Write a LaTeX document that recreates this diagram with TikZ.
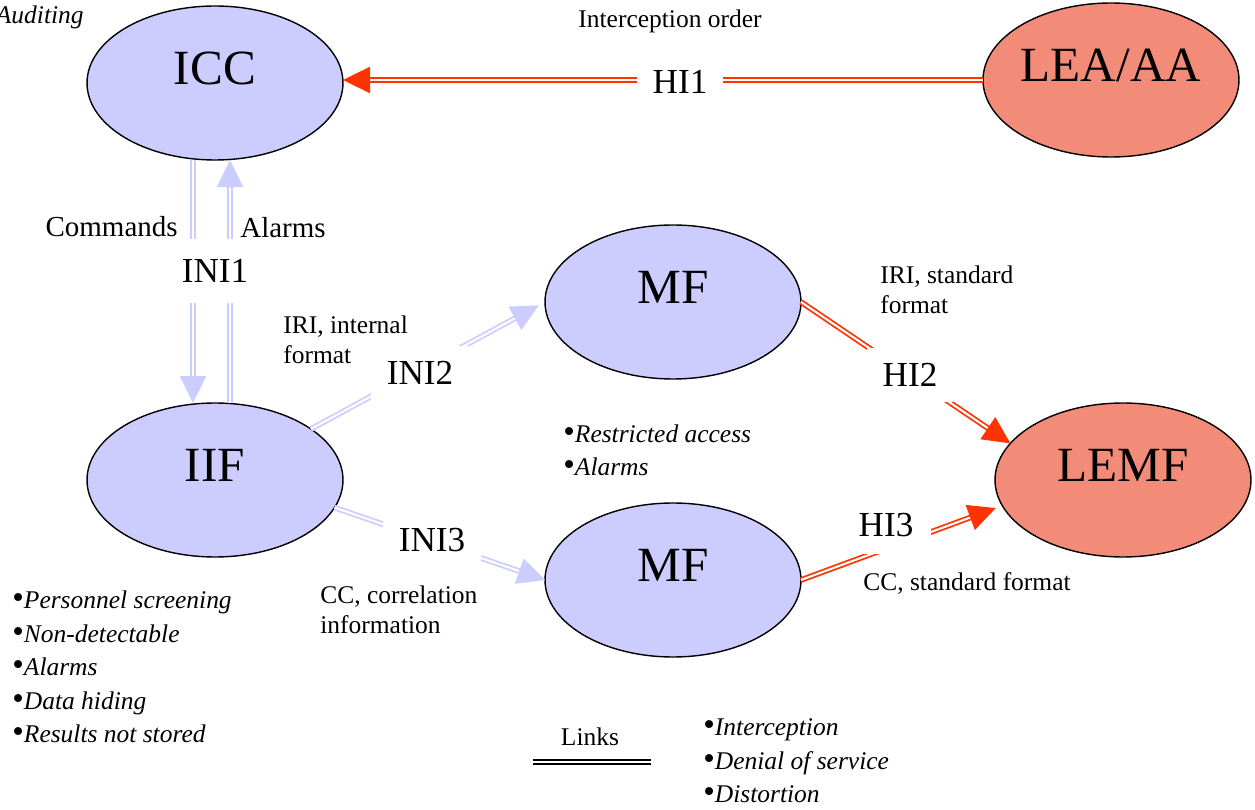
\documentclass[tikz,border=0pt]{standalone}
\usepackage{fontspec}
\setmainfont{Liberation Serif}
\usetikzlibrary{shapes.geometric,arrows.meta}

\definecolor{lavender}{RGB}{204,204,255}
\definecolor{salmon}{RGB}{242,140,120}
\definecolor{hired}{RGB}{255,51,0}

\newcommand{\itm}[1]{\scalebox{1.3}{\upshape\textbullet}\textit{#1}}

\tikzset{
	party/.style={ellipse, draw, line width=0.8pt, minimum width=5.12cm, minimum height=3.08cm,
		outer sep=0pt, inner sep=0pt, font=\fontsize{28}{30}\selectfont,
		text height=18.5pt, text depth=17pt},
	nf/.style={party, fill=lavender},
	lea/.style={party, fill=salmon},
	dbl/.style={double, line width=1pt, double distance=1.2pt},
	inilink/.style={dbl, draw=lavender, -{Triangle[length=15.5pt,width=15pt]}},
	hilink/.style={dbl, draw=hired, -{Triangle[length=15.5pt,width=15pt]}},
	iface/.style={fill=white, inner sep=9pt, font=\fontsize{20}{22}\selectfont},
	note/.style={inner sep=0pt, align=left, font=\fontsize{14.5}{16.8}\selectfont},
	threat/.style={inner sep=0pt, align=left, font=\fontsize{14.5}{19}\selectfont\itshape}
}

\begin{document}
\begin{tikzpicture}[x=0.02cm, y=-0.02cm]
	\useasboundingbox (0,0) rectangle (1255,810);

	% functions and agencies
	\node[nf] (ICC) at (215,83) {ICC};
	\node[lea] (LEA) at (1111,80) {LEA/AA};
	\node[nf] (IIF) at (215,480) {IIF};
	\node[nf] (MF1) at (673,302) {MF};
	\node[nf] (MF2) at (673,580) {MF};
	\node[lea] (LEMF) at (1123,480) {LEMF};

	% handover and internal interfaces
	\draw[hilink] (LEA.west) -- (LEA.west -| ICC.east);
	\draw[inilink] ([xshift=-0.44cm]ICC.south) -- ([xshift=-0.44cm]IIF.north);
	\draw[inilink] ([xshift=0.3cm]IIF.north) -- ([xshift=0.3cm]ICC.south);
	\draw[inilink, shorten >=4pt] (IIF.28) -- (MF1.west);
	\draw[inilink] (IIF.-13) -- (MF2.west);
	\draw[hilink] (MF1.east) -- (LEMF.162);
	\draw[hilink, shorten >=4pt] (MF2.east) -- (LEMF.192);

	\node[iface] (HI1) at (680,82) {HI1};
	\node[iface, inner xsep=3pt, inner ysep=11.5pt] (INI1) at (215,271) {INI1};
	\node[iface] (INI2) at (420,373) {INI2};
	\node[iface] (INI3) at (432,540) {INI3};
	\node[iface] (HI2) at (910,375) {HI2};
	\node[iface, inner sep=10pt] (HI3) at (886,525) {HI3};

	% flow labels
	\node[note, anchor=east, font=\fontsize{14.5}{16.8}\selectfont\itshape] (audit) at (84,17) {Auditing};
	\node[note] (order) at (670,21) {Interception order};
	\node[note, anchor=east, font=\fontsize{16.5}{18}\selectfont] (cmd) at (178,227) {Commands};
	\node[note, anchor=west, font=\fontsize{16.5}{18}\selectfont] (alarm) at (240,228) {Alarms};
	\node[note, anchor=west] (iriint) at (283,340) {IRI, internal\\format};
	\node[note, anchor=west] (iristd) at (880,290) {IRI, standard\\format};
	\node[note, anchor=west] (cccorr) at (320,610) {CC, correlation\\information};
	\node[note, anchor=west] (ccstd) at (863,583) {CC, standard format};

	% threats
	\node[threat, anchor=west] (mfthreat) at (563,450) {\itm{Restricted access}\\\itm{Alarms}};
	\node[threat, anchor=west] (iifthreat) at (12,667) {\itm{Personnel screening}\\\itm{Non-detectable}\\\itm{Alarms}\\\itm{Data hiding}\\\itm{Results not stored}};
	\node[threat, anchor=west] (linkthreat) at (703,761) {\itm{Interception}\\\itm{Denial of service}\\\itm{Distortion}};

	% legend
	\node[note] (links) at (590,737) {Links};
	\draw[dbl, draw=black, line width=1.1pt, double distance=1pt] (533,762) -- (651,762);
\end{tikzpicture}
\end{document}
